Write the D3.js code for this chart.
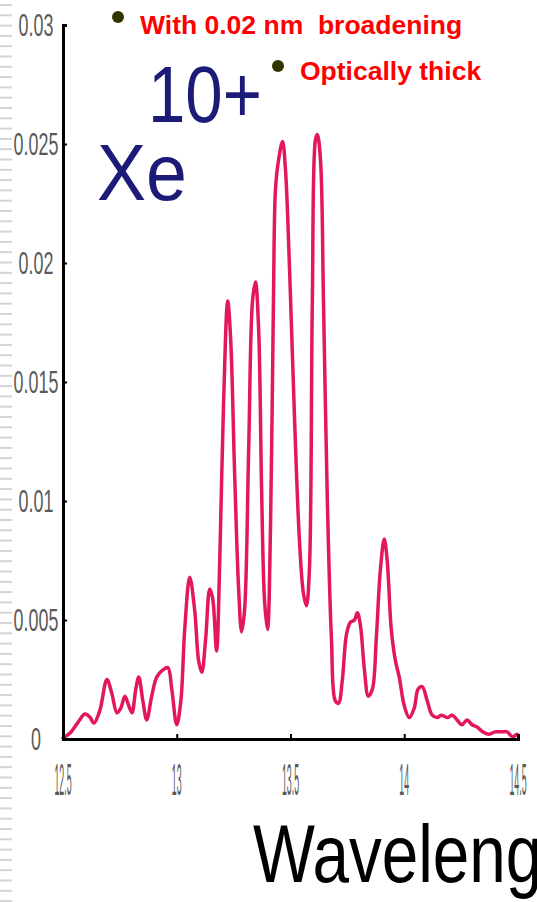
<!DOCTYPE html>
<html>
<head>
<meta charset="utf-8">
<script src="https://cdn.jsdelivr.net/npm/d3@7/dist/d3.min.js"></script>
<style>
  html, body { margin: 0; padding: 0; background: #fff; }
  svg { display: block; font-family: "Liberation Sans", Arial, sans-serif; }
</style>
</head>
<body>
<svg id="chart" width="537" height="902"></svg>
<script>
// Xe10+ emission spectrum (0.02 nm broadening, optically thick)
const wavelength = [
  12.500, 12.531, 12.566, 12.596, 12.618, 12.636, 12.662, 12.693, 12.715, 12.737,
  12.754, 12.772, 12.789, 12.803, 12.820, 12.833, 12.851, 12.868, 12.890, 12.912,
  12.939, 12.961, 12.978, 13.000, 13.018, 13.035, 13.057, 13.079, 13.096, 13.110,
  13.127, 13.145, 13.158, 13.175, 13.189, 13.206, 13.224, 13.237, 13.254, 13.272,
  13.285, 13.298, 13.316, 13.333, 13.346, 13.360, 13.373, 13.386, 13.399, 13.412,
  13.425, 13.434, 13.447, 13.465, 13.478, 13.496, 13.518, 13.539, 13.557, 13.570,
  13.583, 13.596, 13.610, 13.618, 13.632, 13.645, 13.662, 13.680, 13.697, 13.711,
  13.728, 13.746, 13.763, 13.781, 13.794, 13.807, 13.825, 13.842, 13.860, 13.877,
  13.895, 13.912, 13.925, 13.943, 13.961, 13.978, 14.000, 14.022, 14.044, 14.061,
  14.079, 14.101, 14.123, 14.145, 14.162, 14.189, 14.211, 14.232, 14.254, 14.276,
  14.298, 14.320, 14.346, 14.373, 14.399, 14.425, 14.452, 14.474, 14.496
];
const intensity = [
  0.00004, 0.00025, 0.0007, 0.00105, 0.00092, 0.00067, 0.0012, 0.0025, 0.0019, 0.0011,
  0.0013, 0.0018, 0.0014, 0.0011, 0.0021, 0.0026, 0.0016, 0.0008, 0.0018, 0.0026,
  0.0029, 0.0030, 0.0021, 0.0006, 0.0016, 0.0046, 0.0068, 0.0054, 0.0033, 0.0028,
  0.0042, 0.0063, 0.0059, 0.0037, 0.0075, 0.0142, 0.0184, 0.0168, 0.0113, 0.0063,
  0.0045, 0.0054, 0.0121, 0.0184, 0.0192, 0.0172, 0.0105, 0.0058, 0.0046, 0.0088,
  0.0184, 0.0231, 0.0243, 0.0251, 0.0239, 0.0197, 0.0134, 0.0084, 0.0061, 0.0056,
  0.0071, 0.0184, 0.0252, 0.0254, 0.0243, 0.0184, 0.0100, 0.0042, 0.0016, 0.0015,
  0.0025, 0.0044, 0.0049, 0.0050, 0.0053, 0.0048, 0.0029, 0.0018, 0.0021, 0.0042,
  0.0071, 0.0084, 0.0075, 0.0046, 0.0033, 0.0026, 0.0014, 0.0009, 0.0013, 0.0021,
  0.0022, 0.0016, 0.0010, 0.0009, 0.0010, 0.0009, 0.0010, 0.0008, 0.0006, 0.0008,
  0.0006, 0.0005, 0.0003, 0.0002, 0.0003, 0.0003, 0.0003, 0.0001, 0.0002
];
const xTicks = [12.5, 13, 13.5, 14, 14.5];
const xTickLabels = ["12.5", "13", "13.5", "14", "14.5"];
const yTicks = [0, 0.005, 0.01, 0.015, 0.02, 0.025, 0.03];
const yTickLabels = ["0", "0.005", "0.01", "0.015", "0.02", "0.025", "0.03"];
const notes = ["With 0.02 nm  broadening", "Optically thick"];

const svg = d3.select("#chart");
const W = 537, H = 902;
const plot = { left: 63, right: 518, top: 25, bottom: 739 };

svg.append("rect").attr("width", W).attr("height", H).attr("fill", "#fff");

// ruler-like strip on the left edge
svg.append("g").selectAll("rect")
  .data(d3.range(4, H, 10.3))
  .join("rect")
  .attr("x", 0).attr("y", d => d)
  .attr("width", 12).attr("height", 2)
  .attr("fill", "#d4d4d4");

const x = d3.scaleLinear().domain([12.5, 14.5]).range([plot.left, plot.right]);
const y = d3.scaleLinear().domain([0, 0.03]).range([plot.bottom, plot.top]);

// spectrum line
const pts = wavelength.map((w, i) => [w, intensity[i]]);
const line = d3.line()
  .x(d => x(d[0]))
  .y(d => y(d[1]))
  .curve(d3.curveCatmullRom.alpha(0.5));

svg.append("path")
  .datum(pts)
  .attr("d", line)
  .attr("fill", "none")
  .attr("stroke", "#e3175b")
  .attr("stroke-width", 3.5)
  .attr("stroke-linejoin", "round")
  .attr("stroke-linecap", "round");

// y axis (inward ticks)
const yAxis = d3.axisRight(y).tickValues(yTicks).tickSize(4).tickFormat("");
const gy = svg.append("g").attr("transform", `translate(${plot.left},0)`).call(yAxis);
gy.select(".domain").attr("stroke", "#000").attr("stroke-width", 3);
gy.selectAll(".tick line").attr("stroke", "#000").attr("stroke-width", 2);

// x axis (inward ticks)
const xAxis = d3.axisTop(x).tickValues(xTicks).tickSize(5).tickFormat("");
const gx = svg.append("g").attr("transform", `translate(0,${plot.bottom})`).call(xAxis);
gx.select(".domain").attr("stroke", "#000").attr("stroke-width", 3);
gx.selectAll(".tick line").attr("stroke", "#000").attr("stroke-width", 2);

// y tick labels (narrow, grey)
svg.append("g").selectAll("text")
  .data(yTicks)
  .join("text")
  .attr("transform", d => `translate(36,${y(d)}) scale(0.56,1)`)
  .attr("text-anchor", "middle")
  .attr("dominant-baseline", "central")
  .attr("font-size", 32)
  .attr("fill", "#5a5a5a")
  .text((d, i) => yTickLabels[i]);

// x tick labels (very narrow, grey)
svg.append("g").selectAll("text")
  .data(xTicks)
  .join("text")
  .attr("transform", d => `translate(${x(d)},${795}) scale(0.2,1)`)
  .attr("text-anchor", "middle")
  .attr("font-size", 44)
  .attr("fill", "#5a5a5a")
  .text((d, i) => xTickLabels[i]);

// ion label Xe10+
svg.append("text")
  .attr("transform", "translate(97,200) scale(0.92,1)")
  .attr("font-size", 80)
  .attr("fill", "#1c1c78")
  .text("Xe");
svg.append("text")
  .attr("transform", "translate(148,122) scale(0.84,1)")
  .attr("font-size", 80)
  .attr("fill", "#1c1c78")
  .text("10+");

// bullet notes
const noteX = [140, 300], noteY = [34, 80], dotX = [118, 278], dotY = [17, 66];
const gn = svg.append("g");
notes.forEach((t, i) => {
  gn.append("circle").attr("cx", dotX[i]).attr("cy", dotY[i]).attr("r", 6).attr("fill", "#333300");
  gn.append("text")
    .attr("x", noteX[i]).attr("y", noteY[i])
    .attr("font-size", 26.5).attr("font-weight", "bold")
    .attr("fill", "#ff0000")
    .style("white-space", "pre")
    .text(t);
});

// x axis title (runs off the right edge)
svg.append("text")
  .attr("transform", "translate(253,882) scale(0.8,1)")
  .attr("font-size", 82)
  .attr("fill", "#000")
  .text("Wavelength");
</script>
</body>
</html>
